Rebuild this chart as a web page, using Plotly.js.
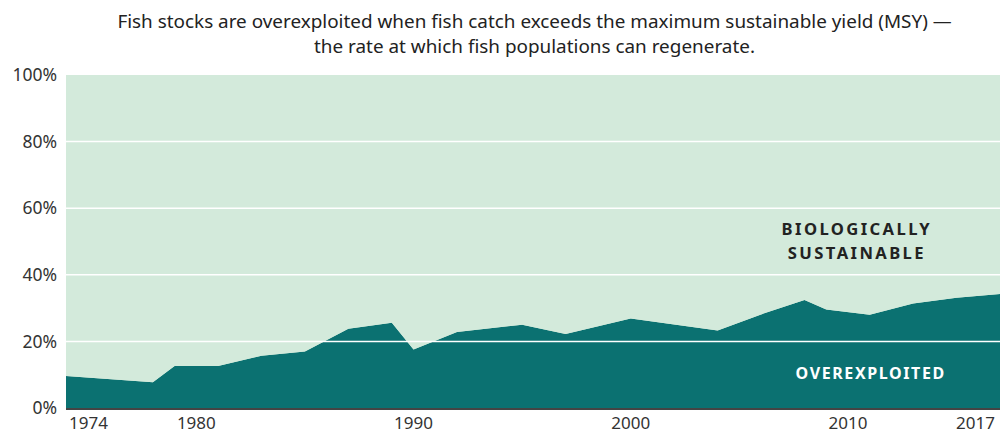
<!DOCTYPE html>
<html>
<head>
<meta charset="utf-8">
<script src="https://cdn.plot.ly/plotly-3.0.1.min.js"></script>
<style>
html,body{margin:0;padding:0;background:#fff}
#chart{width:1000px;height:431px}
.annotation[data-index="0"] text, .annotation[data-index="1"] text {letter-spacing:2.4px}
.annotation[data-index="2"] text {letter-spacing:1.6px}
</style>
</head>
<body>
<div id="chart"></div>
<script>
const years = [1974, 1978, 1979, 1981, 1983, 1985, 1987, 1989, 1990, 1992, 1995, 1997, 2000, 2004, 2006, 2008, 2009, 2011, 2013, 2015, 2017];
const overexploited = [9.6, 7.7, 12.6, 12.6, 15.7, 17.0, 23.8, 25.6, 17.6, 22.8, 25.0, 22.2, 26.9, 23.3, 28.1, 32.4, 29.6, 28.0, 31.4, 33.1, 34.2];
const total = years.map(() => 100);
const yTicks = [0, 20, 40, 60, 80, 100];
const yTickLabels = ['0%', '20%', '40%', '60%', '80%', '100%'];
const xTicks = [1980, 1990, 2000, 2010];
const xEdgeTicks = [1974, 2017];
const titleText = 'Fish stocks are overexploited when fish catch exceeds the maximum sustainable yield (MSY) —<br>the rate at which fish populations can regenerate.';
const labelSustainable = ['BIOLOGICALLY', 'SUSTAINABLE'];
const labelOver = 'OVEREXPLOITED';

const dark = '#0b7171';
const light = '#d3eadb';
const font = 'Noto Sans, sans-serif';

const traces = [
  {x: years, y: overexploited, type: 'scatter', mode: 'lines', fill: 'tozeroy',
   fillcolor: dark, line: {width: 0, color: dark}, hoverinfo: 'skip'},
  {x: years, y: total, type: 'scatter', mode: 'lines', fill: 'tonexty',
   fillcolor: light, line: {width: 0, color: light}, hoverinfo: 'skip'}
];

const shapes = yTicks.filter(v => v > 0 && v < 100).map(v => ({
  type: 'line', xref: 'paper', x0: 0, x1: 1, yref: 'y', y0: v, y1: v,
  line: {color: '#ffffff', width: 1.5}, layer: 'above'
}));

const annotations = [
  {x: 2010.4, y: 54.0, xref: 'x', yref: 'y', text: labelSustainable[0], showarrow: false,
   font: {family: font, size: 16.6, color: '#222222', weight: 'bold'}},
  {x: 2010.4, y: 46.8, xref: 'x', yref: 'y', text: labelSustainable[1], showarrow: false,
   font: {family: font, size: 16.6, color: '#222222', weight: 'bold'}},
  {x: 2011.05, y: 10.5, xref: 'x', yref: 'y', text: labelOver, showarrow: false,
   font: {family: font, size: 16, color: '#ffffff', weight: 'bold'}},
  {x: xEdgeTicks[0], y: 0, xref: 'x', yref: 'paper', text: String(xEdgeTicks[0]), showarrow: false,
   xanchor: 'left', yanchor: 'top', xshift: 1, yshift: -1, font: {family: font, size: 17, color: '#333333'}},
  {x: xEdgeTicks[1], y: 0, xref: 'x', yref: 'paper', text: String(xEdgeTicks[1]), showarrow: false,
   xanchor: 'right', yanchor: 'top', xshift: -3, yshift: -1, font: {family: font, size: 17, color: '#333333'}}
];

const layout = {
  width: 1000, height: 431,
  margin: {l: 66, r: 0, t: 75, b: 23, pad: 0},
  paper_bgcolor: '#ffffff', plot_bgcolor: light,
  showlegend: false,
  title: {text: titleText, font: {family: font, size: 18.9, color: '#222222'},
          x: 0.5345, xanchor: 'center', y: 0.935, yanchor: 'middle', xref: 'container'},
  xaxis: {range: [1974, 2017], tickvals: xTicks, ticktext: xTicks.map(String),
          showgrid: false, zeroline: false, showline: true, linecolor: '#444444', linewidth: 1.5,
          ticks: '', ticklabelstandoff: -1,
          tickfont: {family: font, size: 17, color: '#333333'}, automargin: false, fixedrange: true},
  yaxis: {range: [0, 100], tickvals: yTicks, ticktext: yTickLabels, showgrid: false, zeroline: false,
          showline: false, ticks: '', ticklabelstandoff: 8,
          tickfont: {family: font, size: 17.5, color: '#333333'}, automargin: false, fixedrange: true},
  shapes: shapes,
  annotations: annotations
};

Plotly.newPlot('chart', traces, layout, {displayModeBar: false, staticPlot: true});
</script>
</body>
</html>
